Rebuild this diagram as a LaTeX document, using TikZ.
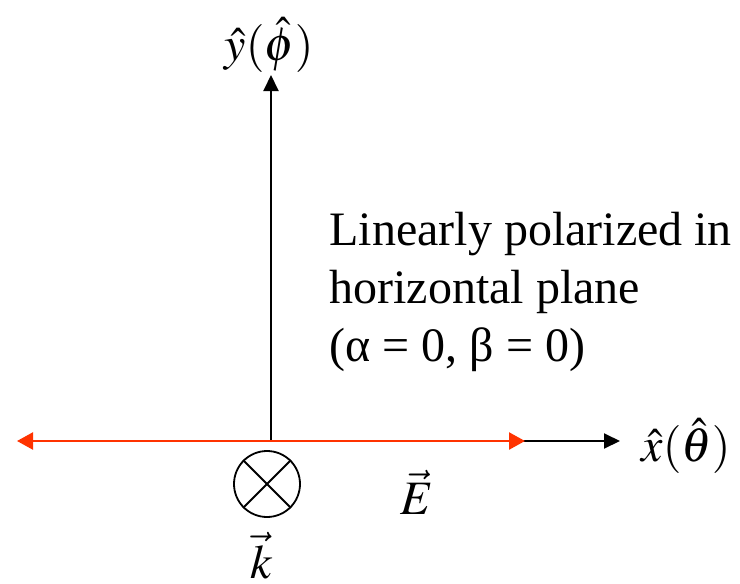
\documentclass[tikz,border=0pt]{standalone}
\usepackage{mathptmx}
\usepackage{fontspec}
\setmainfont{Liberation Serif}
\usetikzlibrary{arrows.meta}
\definecolor{efred}{RGB}{255,51,0}
\tikzset{
  ax/.style   = {-{Triangle[length=8pt,width=7.5pt]}, draw=black, line width=1pt},
  ef/.style   = {{Triangle[length=8pt,width=8.5pt]}-{Triangle[length=8pt,width=8.5pt]},
                 draw=efred, line width=1.2pt},
  lbl/.style  = {font=\fontsize{24}{29}\selectfont, inner sep=0pt},
  kdir/.style = {circle, draw=black, line width=0.9pt, minimum size=33pt, inner sep=0pt},
}

\begin{document}
\begin{tikzpicture}[x=0.5pt, y=-0.5pt]
  \useasboundingbox (0,0) rectangle (740,584);
  \coordinate (o) at (271,441);
  \coordinate (ytip) at (271,75);
  \coordinate (xtip) at (620,441);
  \coordinate (elft) at (17,441);
  \coordinate (ergt) at (525,441);
  \node[lbl] (ylab) at (269,45) {$\hat{y}(\hat{\phi})$};
  \node[lbl] (xlab) at (686,446) {$\hat{x}(\hat{\theta})$};
  \node[kdir] (kin) at (267,484) {};
  \node[lbl] (elab) at (417,492) {$\vec{E}$};
  \node[lbl] (klab) at (262,556) {$\vec{k}$};
  \node[lbl, anchor=north west, align=left] (note) at (329,212)
    {Linearly polarized in\\horizontal plane\\(α = 0, β = 0)};
  \draw[ax] (o) -- (ytip);
  \draw[ax] (o) -- (xtip);
  \draw[ef] (elft) -- (ergt);
  \draw[line width=0.9pt] (kin.north west) -- (kin.south east);
  \draw[line width=0.9pt] (kin.north east) -- (kin.south west);
\end{tikzpicture}
\end{document}
